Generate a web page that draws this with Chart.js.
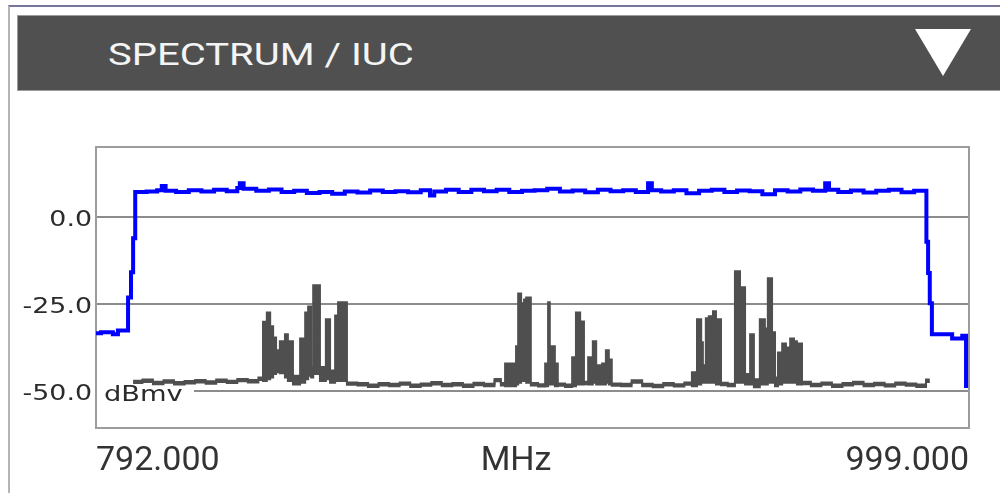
<!DOCTYPE html>
<html>
<head>
<meta charset="utf-8">
<script src="https://cdn.jsdelivr.net/npm/chart.js@4.4.1/dist/chart.umd.min.js"></script>
<style>
  html, body { margin: 0; padding: 0; background: #fff; }
  #page { position: relative; width: 1000px; height: 493px; overflow: hidden; }
  #panel { position: absolute; left: 8px; top: 5px; width: 1000px; height: 500px; box-sizing: border-box;
           border-top: 2px solid #76769c; border-left: 2px solid #b4b4b4; }
  #bar { position: absolute; left: 17px; top: 15px; width: 990px; height: 76px; box-sizing: border-box;
         background: #505050; border: 1px solid #9c9c9c; }
  #title { position: absolute; left: 108px; top: 38px; font: 32px/32px Roboto, sans-serif; color: #f4f4f4;
           white-space: nowrap; transform: scaleX(1.25); transform-origin: 0 0; }
  #arrow { position: absolute; left: 915px; top: 29px; width: 56px; height: 47px; background: #fff;
           clip-path: polygon(0 0, 100% 0, 50% 100%); }
  #chartBox { position: absolute; left: 0; top: 100px; width: 1000px; height: 393px; }
</style>
</head>
<body>
<div id="page">
  <div id="panel"></div>
  <div id="bar"></div>
  <div id="title">SPECTRUM / IUC</div>
  <div id="arrow"></div>
  <div id="chartBox"><canvas id="spectrum"></canvas></div>
</div>
<script>
// axis labels
const xTicks = [792, 891.6, 999];
const xLabels = ['792.000', 'MHz', '999.000'];
const yTicks = [0, -25, -50];
const yLabels = ['0.0', '-25.0', '-50.0'];
const unitLabel = 'dBmv';

// blue trace (MHz / dBmV), stepped
const blueFreq = [792.0, 793.2, 796.0, 797.2, 799.6, 800.3, 800.8, 801.3, 804.0, 806.5,
  807.6, 808.5, 811.0, 814.0, 817.0, 820.0, 823.0, 825.5, 826.1, 827.0,
  830.0, 833.0, 836.0, 839.0, 842.0, 845.0, 848.0, 851.0, 854.0, 857.0,
  860.0, 863.0, 866.0, 869.0, 871.2, 872.2, 875.0, 878.0, 881.0, 884.0,
  887.0, 890.0, 893.0, 896.0, 899.0, 902.0, 905.0, 908.0, 911.0, 914.0,
  917.0, 920.0, 922.9, 923.8, 926.0, 929.0, 932.0, 935.0, 938.0, 941.0,
  944.0, 947.0, 950.0, 953.0, 956.0, 959.0, 962.0, 964.9, 965.8, 968.0,
  971.0, 974.0, 977.0, 980.0, 983.0, 986.0, 988.9, 989.3, 989.7, 990.2,
  995.0, 997.4, 998.3];
const blueLevel = [-33.3, -33.0, -33.6, -32.5, -23.0, -15.8, -6.0, 7.3, 7.4, 7.8,
  9.0, 7.6, 7.3, 7.8, 7.4, 7.9, 7.5, 8.4, 9.8, 8.2,
  7.6, 8.0, 7.3, 7.6, 7.0, 7.3, 6.8, 7.4, 7.1, 7.7,
  7.3, 7.5, 7.2, 7.8, 6.3, 7.4, 7.9, 7.3, 7.9, 7.5,
  7.9, 7.3, 7.6, 7.8, 8.2, 7.4, 7.7, 7.2, 7.9, 7.5,
  7.8, 7.3, 9.8, 7.8, 7.4, 7.8, 6.9, 7.6, 7.9, 7.3,
  7.7, 7.5, 6.6, 7.8, 7.4, 8.0, 7.6, 9.8, 7.9, 7.3,
  7.7, 7.1, 7.6, 7.9, 7.2, 7.6, -7.0, -16.0, -24.7, -33.6,
  -34.8, -34.0, -49.0];

// grey trace: upper edge and lower edge, filled between
const traceFreq = [
  800.8, 803.0, 805.5, 808.0, 810.5, 813.0, 815.5, 818.0, 820.5, 823.0, 825.5, 828.0, 830.5,
  831.6, 832.5, 833.3, 834.0, 834.7, 835.6, 836.8, 837.5, 838.7, 840.4, 841.6, 842.3, 843.0, 843.5, 845.1, 846.5, 847.5, 848.7, 849.4,
  851.5, 854.0, 856.5, 859.0, 861.5, 864.0, 866.5, 869.0, 871.5, 874.0, 876.5, 879.0, 881.5, 884.0, 886.5,
  888.0, 889.0, 891.6, 892.1, 892.8, 893.5, 894.0, 895.1, 896.8, 898.5, 899.2, 899.6, 900.8, 901.5, 903.2, 904.9, 905.8, 906.8, 907.7, 908.7, 909.8, 910.6, 912.0, 912.9, 913.6,
  914.3, 916.5, 919.0, 921.5, 924.0, 926.5, 929.0, 931.5,
  933.3, 934.5, 935.5, 935.9, 936.6, 937.3, 938.3, 939.0, 940.2, 941.8, 943.5, 944.7, 945.9, 947.1, 948.0, 949.4, 950.6, 951.3, 952.3, 953.0, 953.7, 954.7, 955.6, 956.6, 957.5, 958.2, 959.4,
  961.5, 964.0, 966.5, 969.0, 971.5, 974.0, 976.5, 979.0, 981.5, 984.0, 986.5, 988.8, 989.7];
const tracePeak = [
  -46.9, -46.6, -47.2, -46.8, -47.3, -47.0, -46.7, -47.1, -46.6, -46.9, -46.4, -46.7, -46.0,
  -30.0, -27.3, -31.3, -34.5, -38.2, -35.6, -33.6, -35.6, -45.5, -34.8, -27.3, -25.6, -43.0, -19.5, -43.0, -29.3, -44.0, -28.2, -24.4,
  -47.4, -47.6, -48.0, -47.6, -47.8, -47.4, -48.0, -47.7, -47.3, -47.8, -47.6, -48.0, -47.5, -47.8, -46.4,
  -47.6, -42.0, -37.0, -21.9, -24.7, -23.6, -23.0, -47.6, -47.9, -42.0, -24.4, -37.0, -42.0, -47.7, -48.0, -40.2, -27.3, -29.9, -47.2, -40.2, -35.6, -42.5, -42.0, -38.2, -40.8,
  -47.7, -47.8, -46.8, -47.8, -48.1, -47.6, -47.9, -47.4,
  -44.5, -29.3, -35.9, -42.5, -29.0, -28.4, -27.0, -29.3, -47.5, -47.8, -15.5, -20.1, -45.0, -33.6, -46.5, -29.3, -31.9, -17.5, -33.0, -46.0, -38.8, -36.2, -37.4, -34.8, -35.6, -36.2, -47.2,
  -47.8, -47.4, -48.0, -47.6, -47.2, -47.8, -47.5, -47.9, -47.4, -47.7, -48.0, -46.6, -46.6];
const traceFloor = [
  -47.6, -47.3, -47.9, -47.5, -48.0, -47.7, -47.4, -47.8, -47.3, -47.6, -47.1, -47.4, -46.7,
  -47.0, -46.5, -46.0, -45.0, -44.5, -44.8, -46.0, -47.0, -48.0, -47.5, -46.5, -45.5, -46.0, -45.0, -47.0, -46.5, -47.5, -47.0, -47.0,
  -48.1, -48.3, -48.7, -48.3, -48.5, -48.1, -48.7, -48.4, -48.0, -48.5, -48.3, -48.7, -48.2, -48.5, -47.1,
  -48.3, -48.5, -48.0, -47.5, -47.0, -47.0, -47.5, -48.3, -48.6, -48.5, -48.0, -48.0, -48.5, -48.4, -48.7, -48.5, -48.0, -48.0, -47.9, -48.0, -47.5, -48.0, -48.0, -47.5, -48.0,
  -48.4, -48.5, -47.5, -48.5, -48.8, -48.3, -48.6, -48.1,
  -48.5, -48.0, -47.5, -47.5, -47.5, -47.5, -47.5, -48.0, -48.2, -48.5, -47.5, -47.5, -48.0, -48.0, -48.8, -48.0, -48.0, -47.5, -47.5, -48.5, -48.0, -47.5, -47.5, -47.5, -47.5, -48.0, -47.9,
  -48.5, -48.1, -48.7, -48.3, -47.9, -48.5, -48.2, -48.6, -48.1, -48.4, -48.7, -47.3, -47.3];

const GREY = '#4f4f4f';

function pts(xs, ys) {
  return xs.map((x, i) => ({ x: x, y: ys[i] }));
}

// plot frame, y labels and the unit text over the -50 line
const framePlugin = {
  id: 'frame',
  beforeDatasetsDraw(chart) {
    const ctx = chart.ctx;
    const a = chart.chartArea;
    const y = chart.scales.y;
    const y50 = y.getPixelForValue(-50);
    ctx.save();
    ctx.fillStyle = '#fff';
    ctx.fillRect(a.left + 1, y50 - 2, 97, 4);
    ctx.strokeStyle = '#9c9c9c';
    ctx.lineWidth = 2;
    ctx.strokeRect(a.left, a.top, a.right - a.left, a.bottom - a.top);

    ctx.fillStyle = '#2b2b2b';
    ctx.font = '22px "DejaVu Sans"';
    y.ticks.forEach(function(t) {
      const py = y.getPixelForValue(t.value);
      ctx.save();
      ctx.translate(a.left - 4, py + 9);
      ctx.scale(1.22, 1);
      ctx.textAlign = 'right';
      ctx.fillText(yLabels[yTicks.indexOf(t.value)], 0, 0);
      ctx.restore();
    });
    ctx.save();
    ctx.translate(a.left + 8, y50 + 10);
    ctx.scale(1.24, 1);
    ctx.textAlign = 'left';
    ctx.fillText(unitLabel, 0, 0);
    ctx.restore();
    ctx.restore();
  }
};

new Chart(document.getElementById('spectrum'), {
  type: 'line',
  data: {
    datasets: [
      {
        label: 'Level',
        data: pts(blueFreq, blueLevel),
        borderColor: '#0000ff',
        borderWidth: 4,
        stepped: true,
        pointRadius: 0,
        fill: false
      },
      {
        label: 'Trace',
        data: pts(traceFreq, tracePeak),
        borderColor: GREY,
        backgroundColor: GREY,
        borderWidth: 2,
        stepped: true,
        pointRadius: 0,
        fill: '+1'
      },
      {
        label: 'Trace floor',
        data: pts(traceFreq, traceFloor),
        borderColor: GREY,
        borderWidth: 2,
        stepped: true,
        pointRadius: 0,
        fill: false
      }
    ]
  },
  options: {
    responsive: true,
    maintainAspectRatio: false,
    animation: false,
    layout: { padding: { left: 0, right: 31, top: 47, bottom: 0 } },
    plugins: {
      legend: { display: false },
      tooltip: { enabled: false }
    },
    scales: {
      x: {
        type: 'linear',
        min: 792,
        max: 999,
        afterBuildTicks: function(scale) {
          scale.ticks = xTicks.map(v => ({ value: v }));
        },
        afterFit: function(scale) { scale.height = 65; },
        grid: { display: false },
        border: { display: false },
        ticks: {
          autoSkip: false,
          maxRotation: 0,
          align: 'inner',
          padding: 5,
          color: '#333',
          font: { family: 'Roboto', size: 34 },
          callback: function(v, i) { return xLabels[i]; }
        }
      },
      y: {
        min: -60.5,
        max: 20.2,
        afterBuildTicks: function(scale) {
          scale.ticks = yTicks.map(v => ({ value: v }));
        },
        afterFit: function(scale) { scale.width = 96; },
        grid: { color: '#8c8c8c', lineWidth: 2, drawTicks: false },
        border: { display: false },
        ticks: { display: false }
      }
    }
  },
  plugins: [framePlugin]
});
</script>
</body>
</html>
